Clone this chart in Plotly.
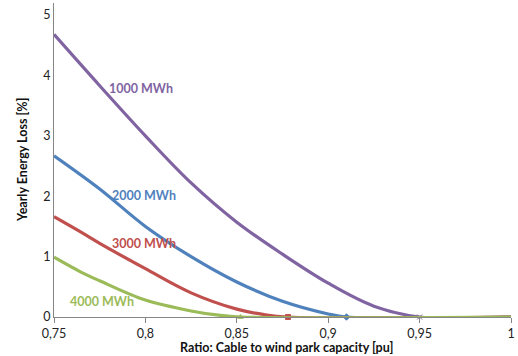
import plotly.graph_objects as go

# ---- data ----
x_1000 = [0.75, 0.775, 0.80, 0.825, 0.85, 0.875, 0.90, 0.925, 0.95, 1.0]
y_1000 = [4.68, 3.83, 3.00, 2.22, 1.57, 1.04, 0.56, 0.18, 0.0, 0.0]

x_2000 = [0.75, 0.775, 0.80, 0.825, 0.85, 0.875, 0.90, 0.91, 1.0]
y_2000 = [2.67, 2.12, 1.50, 1.00, 0.58, 0.26, 0.05, 0.0, 0.0]

x_3000 = [0.75, 0.765, 0.775, 0.80, 0.825, 0.85, 0.865, 0.878, 1.0]
y_3000 = [1.66, 1.40, 1.22, 0.80, 0.40, 0.13, 0.04, 0.0, 0.0]

x_4000 = [0.75, 0.765, 0.775, 0.80, 0.825, 0.84, 0.852, 1.0]
y_4000 = [0.99, 0.74, 0.60, 0.28, 0.10, 0.03, 0.0, 0.0]

series_names = ["1000 MWh", "2000 MWh", "3000 MWh", "4000 MWh"]
label_x = [0.7975, 0.7995, 0.799, 0.7765]
label_y = [3.79, 2.02, 1.21, 0.25]

x_tickvals = [0.75, 0.8, 0.85, 0.9, 0.95, 1.0]
x_ticktext = ["0,75", "0,8", "0,85", "0,9", "0,95", "1"]
y_tickvals = [0, 1, 2, 3, 4, 5]

colors = ["#8064A2", "#4F81BD", "#C0504D", "#9BBB59"]
symbols = ["x-thin", "diamond", "square", "triangle-up"]

xs = [x_1000, x_2000, x_3000, x_4000]
ys = [y_1000, y_2000, y_3000, y_4000]

fig = go.Figure()
for name, x, y, c, s in zip(series_names, xs, ys, colors, symbols):
    fig.add_trace(go.Scatter(x=x, y=y, mode="lines", name=name,
                             line=dict(color=c, width=3.2, shape="spline", smoothing=1.0),
                             cliponaxis=False, showlegend=False, hoverinfo="skip"))
    # marker where the series first reaches zero
    zi = y.index(0.0)
    fig.add_trace(go.Scatter(x=[x[zi]], y=[y[zi]], mode="markers",
                             marker=dict(symbol=s, size=5, color=c,
                                         line=dict(color=c, width=1)),
                             cliponaxis=False, showlegend=False, hoverinfo="skip"))

for name, lx, ly, c in zip(series_names, label_x, label_y, colors):
    fig.add_annotation(x=lx, y=ly, text="<b>%s</b>" % name, showarrow=False,
                       font=dict(family="Lato", size=12.5, color=c))

L, R, T, B = 54, 7, 3, 39
W, H = 518, 356
pw, ph = W - L - R, H - T - B

# axis titles (pixel centres converted to paper coords)
fig.add_annotation(x=(286 - L) / pw, y=(H - B - 347.5) / ph, xref="paper", yref="paper",
                   xanchor="center", yanchor="middle", showarrow=False,
                   text="<b>Ratio: Cable to wind park capacity [pu]</b>",
                   font=dict(size=12.5, color="#111111"))
fig.add_annotation(x=(22 - L) / pw, y=(H - B - 160) / ph, xref="paper", yref="paper",
                   xanchor="center", yanchor="middle", showarrow=False,
                   text="<b>Yearly Energy Loss [%]</b>", textangle=-90,
                   font=dict(size=12.5, color="#111111"))

fig.update_layout(
    width=W, height=H,
    margin=dict(l=L, r=R, t=T, b=B),
    plot_bgcolor="white", paper_bgcolor="white",
    font=dict(family="Lato", size=12.5, color="#222222"),
)
fig.update_xaxes(range=[0.75, 1.0], tickvals=x_tickvals, ticktext=x_ticktext,
                 showgrid=False, zeroline=False, showline=True, linecolor="#868686",
                 linewidth=1, ticks="outside", ticklen=5, tickcolor="#868686",
                 automargin=False)
fig.update_yaxes(range=[0, 5.2], tickvals=y_tickvals, showgrid=False, zeroline=False,
                 showline=True, linecolor="#868686", linewidth=1, ticks="",
                 automargin=False)

fig.write_html("out.html", config={"displayModeBar": False},
               post_script="document.body.style.margin='0';document.body.style.overflow='hidden';")
